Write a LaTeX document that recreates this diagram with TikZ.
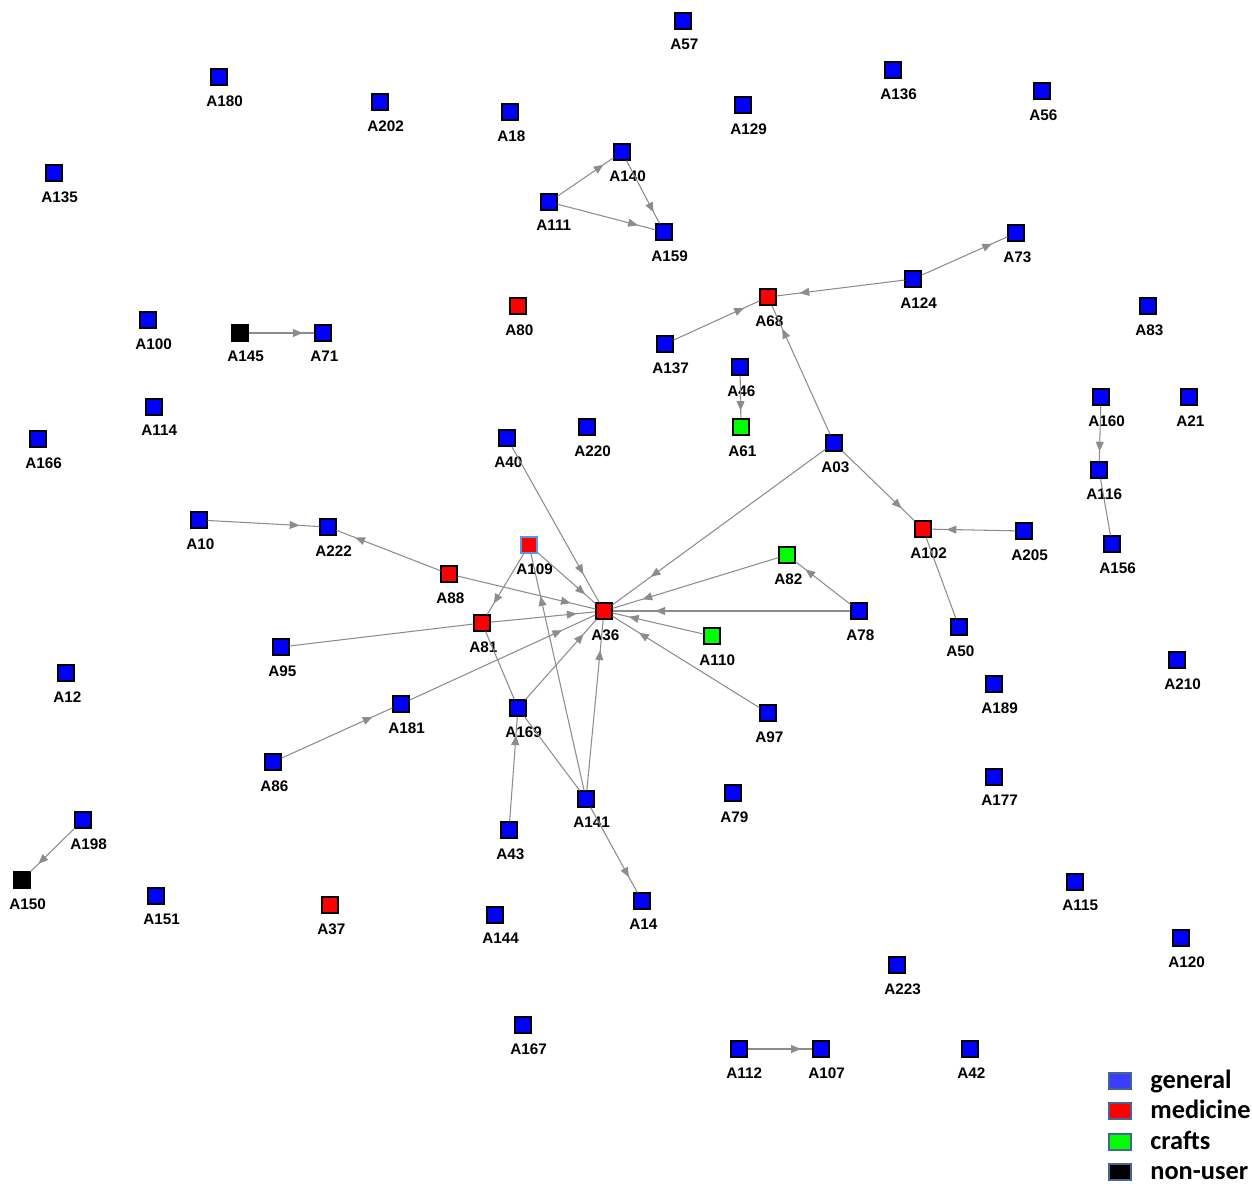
\documentclass[tikz,border=0pt]{standalone}
\usepackage{fontspec}
\setmainfont{Liberation Sans}
\newfontfamily\legendfont{Carlito}
\usetikzlibrary{arrows.meta, decorations.markings}
\definecolor{genblue}{RGB}{0,0,255}
\definecolor{medred}{RGB}{255,0,0}
\definecolor{craftgreen}{RGB}{0,255,0}
\definecolor{edgegray}{RGB}{140,140,140}
\definecolor{keyblue}{RGB}{60,60,255}
\definecolor{keyframe}{RGB}{70,100,150}
\definecolor{hiframe}{RGB}{90,150,230}

% one actor = coloured square with its name underneath
\newcommand{\actor}[3]{\node[#1, label={[lbl]south west:#2}] (#2) at (#3) {};}

\begin{document}
\begin{tikzpicture}[
    x=0.02cm, y=-0.02cm,
    actor/.style={rectangle, draw=black, line width=0.6pt,
                  minimum size=0.32cm, inner sep=0pt},
    gen/.style={actor, fill=genblue},
    med/.style={actor, fill=medred},
    craft/.style={actor, fill=craftgreen},
    non/.style={actor, fill=black},
    lbl/.style={font=\bfseries\fontsize{8.7}{10}\selectfont, inner sep=0pt,
                anchor=north west, xshift=-0.09cm, yshift=-0.19cm},
    tie/.style={draw=edgegray, line width=0.6pt},
    link/.style={tie, postaction={decorate},
                 decoration={markings, mark=at position 0.82 with
                   {\arrow[edgegray]{Triangle[length=5.5pt,width=4.5pt]}}}},
    key/.style={rectangle, draw=keyframe, line width=1.2pt,
                minimum width=0.44cm, minimum height=0.32cm, inner sep=0pt},
    keytext/.style={font=\legendfont\bfseries\fontsize{15}{16}\selectfont,
                    anchor=base west, inner sep=0pt}
]
\useasboundingbox (0,0) rectangle (1252,1187);

% actors
\actor{gen}{A57}{683,21}
\actor{gen}{A180}{219,77}
\actor{gen}{A202}{380,102}
\actor{gen}{A18}{510,112}
\actor{gen}{A129}{743,105}
\actor{gen}{A136}{893,70}
\actor{gen}{A56}{1042,91}
\actor{gen}{A135}{54,173}
\actor{gen}{A140}{622,152}
\actor{gen}{A111}{549,202}
\actor{gen}{A159}{664,232}
\actor{gen}{A73}{1016,233}
\actor{gen}{A124}{913,279}
\actor{med}{A68}{768,297}
\actor{med}{A80}{518,306}
\actor{gen}{A83}{1148,306}
\actor{gen}{A100}{148,320}
\actor{non}{A145}{240,333}
\actor{gen}{A71}{323,333}
\actor{gen}{A137}{665,344}
\actor{gen}{A46}{740,367}
\actor{gen}{A160}{1101,397}
\actor{gen}{A21}{1189,397}
\actor{gen}{A114}{154,407}
\actor{craft}{A61}{741,427}
\actor{gen}{A220}{587,427}
\actor{gen}{A40}{507,438}
\actor{gen}{A03}{834,443}
\actor{gen}{A166}{38,439}
\actor{gen}{A116}{1099,470}
\actor{gen}{A10}{199,520}
\actor{gen}{A222}{328,527}
\actor{med}{A102}{923,529}
\actor{gen}{A205}{1024,531}
\actor{med, draw=hiframe}{A109}{529,545}
\actor{gen}{A156}{1112,544}
\actor{craft}{A82}{787,555}
\actor{med}{A88}{449,574}
\actor{med}{A36}{604,611}
\actor{gen}{A78}{859,611}
\actor{med}{A81}{482,623}
\actor{craft}{A110}{712,636}
\actor{gen}{A95}{281,647}
\actor{gen}{A50}{959,627}
\actor{gen}{A12}{66,673}
\actor{gen}{A210}{1177,660}
\actor{gen}{A189}{994,684}
\actor{gen}{A181}{401,704}
\actor{gen}{A169}{518,708}
\actor{gen}{A97}{768,713}
\actor{gen}{A86}{273,762}
\actor{gen}{A177}{994,777}
\actor{gen}{A79}{733,793}
\actor{gen}{A141}{586,799}
\actor{gen}{A198}{83,820}
\actor{gen}{A43}{509,830}
\actor{non}{A150}{22,880}
\actor{gen}{A115}{1075,882}
\actor{gen}{A151}{156,896}
\actor{med}{A37}{330,905}
\actor{gen}{A14}{642,901}
\actor{gen}{A144}{495,915}
\actor{gen}{A120}{1181,938}
\actor{gen}{A223}{897,965}
\actor{gen}{A167}{523,1025}
\actor{gen}{A112}{739,1049}
\actor{gen}{A107}{821,1049}
\actor{gen}{A42}{970,1049}

% ties
\draw[link] (A111) -- (A140);
\draw[link] (A111) -- (A159);
\draw[link] (A140) -- (A159);
\draw[link] (A145) -- (A71);
\draw[link] (A137) -- (A68);
\draw[link] (A124) -- (A68);
\draw[link] (A124) -- (A73);
\draw[link] (A03) -- (A68);
\draw[link] (A46) -- (A61);
\draw[link] (A03) -- (A36);
\draw[link] (A03) -- (A102);
\draw[link] (A205) -- (A102);
\draw[tie]  (A102) -- (A50);
\draw[link] (A160) -- (A116);
\draw[tie]  (A116) -- (A156);
\draw[link] (A10) -- (A222);
\draw[link] (A88) -- (A222);
\draw[link] (A88) -- (A36);
\draw[link] (A109) -- (A36);
\draw[link] (A109) -- (A81);
\draw[link] (A40) -- (A36);
\draw[tie]  (A95) -- (A81);
\draw[link] (A81) -- (A36);
\draw[link] (A78) -- (A36);
\draw[link] (A78) -- (A82);
\draw[link] (A82) -- (A36);
\draw[link] (A110) -- (A36);
\draw[link] (A97) -- (A36);
\draw[link] (A181) -- (A36);
\draw[link] (A86) -- (A181);
\draw[link] (A169) -- (A36);
\draw[link] (A43) -- (A169);
\draw[link] (A141) -- (A36);
\draw[link] (A141) -- (A109);
\draw[tie]  (A81) -- (A169);
\draw[tie]  (A169) -- (A141);
\draw[link] (A141) -- (A14);
\draw[link] (A198) -- (A150);
\draw[link] (A112) -- (A107);

% legend
\node[key, fill=keyblue] (kgen) at (1120,1081) {};
\node[key, fill=medred] (kmed) at (1120,1111) {};
\node[key, fill=craftgreen] (kcraft) at (1120,1142) {};
\node[key, fill=black] (knon) at (1120,1172) {};
\node[keytext] (tgen) at (1150,1088) {general};
\node[keytext] (tmed) at (1150,1118) {medicine};
\node[keytext] (tcraft) at (1150,1149) {crafts};
\node[keytext] (tnon) at (1150,1179) {non-user};
\end{tikzpicture}
\end{document}
